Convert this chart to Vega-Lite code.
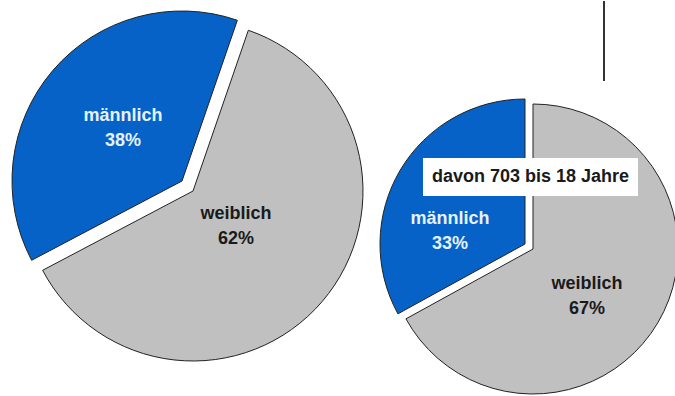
{
  "$schema": "https://vega.github.io/schema/vega-lite/v6.json",
  "width": 675,
  "height": 396,
  "autosize": {"type": "fit", "contains": "padding"},
  "padding": 0,
  "background": "white",
  "config": {"view": {"stroke": null}},
  "data": {
    "values": [
      {"pie": "alle", "sex": "männlich", "pct": 38},
      {"pie": "alle", "sex": "weiblich", "pct": 62},
      {"pie": "bis 18 Jahre", "sex": "männlich", "pct": 33},
      {"pie": "bis 18 Jahre", "sex": "weiblich", "pct": 67}
    ]
  },
  "transform": [
    {"stack": "pct", "groupby": ["pie"], "sort": [{"field": "sex", "order": "descending"}], "as": ["start", "end"]},
    {"calculate": "datum.sex + '\\n' + datum.pct + '%'", "as": "label"}
  ],
  "encoding": {
    "x": {"field": "pie", "type": "nominal", "axis": null, "scale": {"type": "point", "domain": ["alle", "bis 18 Jahre"], "range": [193, 533], "padding": 0}},
    "y": {"field": "pie", "type": "nominal", "axis": null, "scale": {"type": "point", "domain": ["alle", "bis 18 Jahre"], "range": [190, 248], "padding": 0}}
  },
  "layer": [
    {
      "data": {"values": [{"pie": "bis 18 Jahre"}]},
      "mark": {"type": "rule", "color": "#333333", "strokeWidth": 2, "xOffset": 71},
      "encoding": {"y": {"value": 0}, "y2": {"value": 80}}
    },
    {
      "transform": [{"filter": "datum.pie == 'alle' && datum.sex == 'weiblich'"}],
      "mark": {"type": "arc", "radius": 170, "fill": "#C0C0C0", "stroke": "#222222", "strokeWidth": 1},
      "encoding": {
        "theta": {"field": "start", "type": "quantitative", "scale": {"domain": [0, 100], "range": [0.3316, 6.6148]}},
        "theta2": {"field": "end"}
      }
    },
    {
      "transform": [{"filter": "datum.pie == 'alle' && datum.sex == 'männlich'"}],
      "mark": {"type": "arc", "radius": 170, "fill": "#0662C6", "stroke": "#222222", "strokeWidth": 1, "xOffset": -11, "yOffset": -10},
      "encoding": {
        "theta": {"field": "start", "type": "quantitative", "scale": {"domain": [0, 100], "range": [0.3316, 6.6148]}},
        "theta2": {"field": "end"}
      }
    },
    {
      "transform": [{"filter": "datum.pie == 'bis 18 Jahre' && datum.sex == 'weiblich'"}],
      "mark": {"type": "arc", "radius": 145, "fill": "#C0C0C0", "stroke": "#222222", "strokeWidth": 1},
      "encoding": {
        "theta": {"field": "start", "type": "quantitative", "scale": {"domain": [0, 100], "range": [0, 6.2832]}},
        "theta2": {"field": "end"}
      }
    },
    {
      "transform": [{"filter": "datum.pie == 'bis 18 Jahre' && datum.sex == 'männlich'"}],
      "mark": {"type": "arc", "radius": 145, "fill": "#0662C6", "stroke": "#222222", "strokeWidth": 1, "xOffset": -8, "yOffset": -5},
      "encoding": {
        "theta": {"field": "start", "type": "quantitative", "scale": {"domain": [0, 100], "range": [0, 6.2832]}},
        "theta2": {"field": "end"}
      }
    },
    {
      "transform": [{"filter": "datum.pie == 'alle' && datum.sex == 'männlich'"}],
      "mark": {"type": "text", "font": "Liberation Sans", "fontWeight": "bold", "fontSize": 18, "lineHeight": 25, "lineBreak": "\n", "align": "center", "baseline": "middle", "color": "#E6F2FF", "dx": -70, "dy": -75},
      "encoding": {"text": {"field": "label"}}
    },
    {
      "transform": [{"filter": "datum.pie == 'alle' && datum.sex == 'weiblich'"}],
      "mark": {"type": "text", "font": "Liberation Sans", "fontWeight": "bold", "fontSize": 18, "lineHeight": 25, "lineBreak": "\n", "align": "center", "baseline": "middle", "color": "#1a1a1a", "dx": 43, "dy": 23},
      "encoding": {"text": {"field": "label"}}
    },
    {
      "transform": [{"filter": "datum.pie == 'bis 18 Jahre' && datum.sex == 'männlich'"}],
      "mark": {"type": "text", "font": "Liberation Sans", "fontWeight": "bold", "fontSize": 18, "lineHeight": 25, "lineBreak": "\n", "align": "center", "baseline": "middle", "color": "#E6F2FF", "dx": -83, "dy": -30},
      "encoding": {"text": {"field": "label"}}
    },
    {
      "transform": [{"filter": "datum.pie == 'bis 18 Jahre' && datum.sex == 'weiblich'"}],
      "mark": {"type": "text", "font": "Liberation Sans", "fontWeight": "bold", "fontSize": 18, "lineHeight": 25, "lineBreak": "\n", "align": "center", "baseline": "middle", "color": "#1a1a1a", "dx": 54, "dy": 35},
      "encoding": {"text": {"field": "label"}}
    },
    {
      "data": {"values": [{"pie": "bis 18 Jahre", "note": "davon 703 bis 18 Jahre"}]},
      "mark": {"type": "point", "shape": "M-1,-0.1767H1V0.1767H-1Z", "size": 46225, "filled": true, "fill": "white", "opacity": 1, "strokeWidth": 0, "xOffset": -2.5, "yOffset": -72}
    },
    {
      "data": {"values": [{"pie": "bis 18 Jahre", "note": "davon 703 bis 18 Jahre"}]},
      "mark": {"type": "text", "font": "Liberation Sans", "fontWeight": "bold", "fontSize": 18, "align": "center", "baseline": "middle", "color": "#1a1a1a", "dx": -2.5, "dy": -72},
      "encoding": {"text": {"field": "note"}}
    }
  ],
  "resolve": {"scale": {"theta": "independent"}}
}
